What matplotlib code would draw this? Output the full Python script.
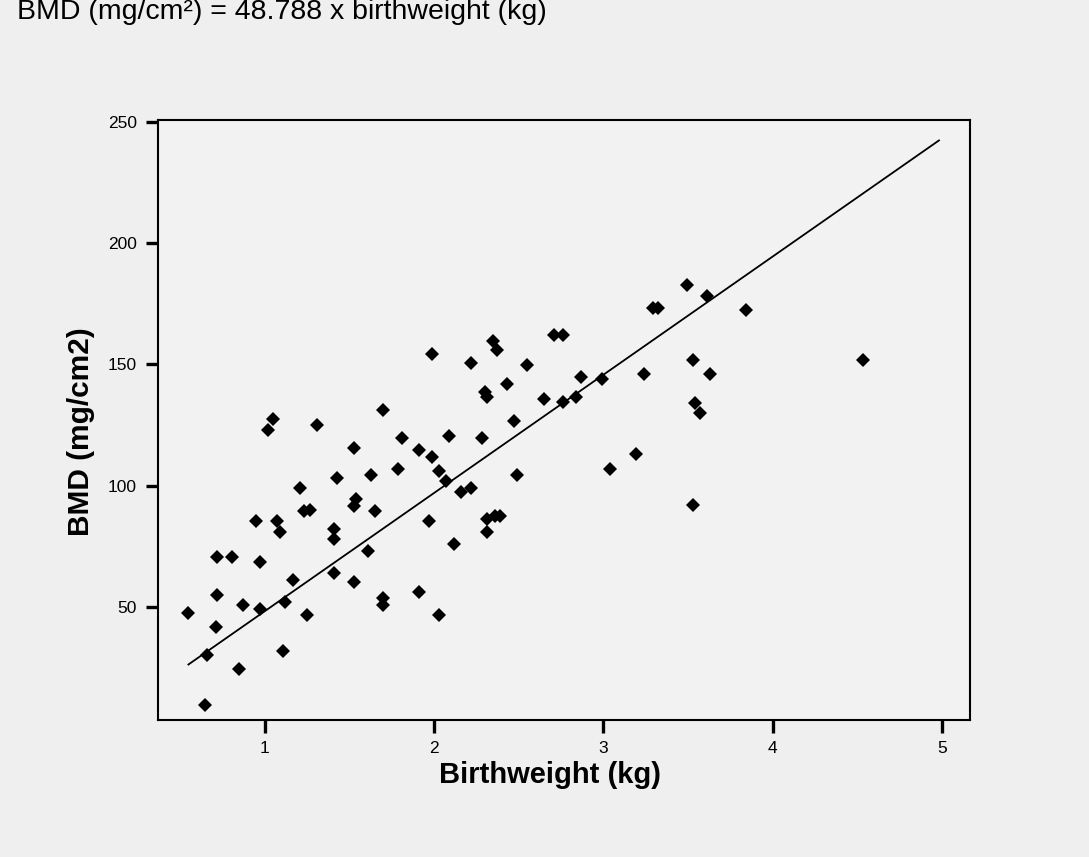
"""Birthweight vs BMD scatter with fitted regression line."""
import matplotlib
matplotlib.use("Agg")
import matplotlib.pyplot as plt

# birthweight (kg) and BMD (mg/cm2)
birthweight = [
    0.55, 0.65, 0.66, 0.71, 0.72, 0.72, 0.81, 0.85, 0.87, 0.95,
    0.97, 0.97, 1.02, 1.05, 1.07, 1.09, 1.11, 1.12, 1.17, 1.21,
    1.23, 1.27, 1.25, 1.31, 1.41, 1.41, 1.41, 1.43, 1.53, 1.54,
    1.53, 1.53, 1.61, 1.63, 1.65, 1.70, 1.70, 1.70, 1.79, 1.81,
    1.91, 1.91, 1.97, 1.985, 1.985, 2.03, 2.03, 2.07, 2.09, 2.12,
    2.16, 2.22, 2.22, 2.28, 2.30, 2.31, 2.31, 2.31, 2.35, 2.36,
    2.37, 2.39, 2.43, 2.47, 2.49, 2.55, 2.65, 2.71, 2.76, 2.76,
    2.84, 2.87, 2.99, 3.04, 3.19, 3.24, 3.29, 3.32, 3.49, 3.53,
    3.53, 3.54, 3.57, 3.61, 3.63, 3.84, 4.53,
]
bmd = [
    47.4, 9.6, 30.2, 41.5, 55.1, 70.5, 70.5, 24.3, 50.8, 85.3,
    68.7, 49.3, 123.0, 127.5, 85.3, 80.8, 31.9, 51.9, 61.1, 99.2,
    89.5, 90.0, 46.6, 125.0, 82.0, 78.2, 63.9, 103.3, 115.4, 94.4,
    91.4, 60.4, 73.2, 104.3, 89.6, 131.0, 53.6, 50.7, 106.9, 119.8,
    114.6, 56.2, 85.3, 112.0, 154.2, 106.2, 46.7, 102.1, 120.5, 75.9,
    97.4, 99.2, 150.7, 119.8, 138.5, 136.5, 86.2, 80.9, 159.8, 87.5,
    156.0, 87.3, 142.1, 126.7, 104.4, 149.8, 135.8, 162.0, 162.0, 134.3,
    136.5, 145.0, 143.9, 106.9, 113.0, 146.0, 173.2, 173.2, 182.8, 152.0,
    92.2, 134.0, 129.9, 178.4, 146.0, 172.5, 152.0,
]

# fitted line: BMD = intercept + slope * birthweight
slope = 48.788
intercept = -0.6
fit_x = [0.55, 4.98]

x_ticks = [1, 2, 3, 4, 5]
y_ticks = [50, 100, 150, 200, 250]

plt.rcParams["font.family"] = ["Liberation Sans", "DejaVu Sans"]

bg = "#efefef"
fig = plt.figure(figsize=(10.89, 8.57), dpi=100, facecolor=bg)
ax = fig.add_axes([0.145, 0.160, 0.746, 0.700], facecolor="#f2f2f2")

ax.plot(birthweight, bmd, linestyle="none", marker="D", markersize=7.5,
        color="black", markeredgewidth=0)
fit_y = [intercept + slope * x for x in fit_x]
ax.plot(fit_x, fit_y, color="black", linewidth=1.3)

ax.set_xlim(0.37, 5.165)
ax.set_ylim(3.4, 250.8)
ax.set_xticks(x_ticks)
ax.set_yticks(y_ticks)
ax.tick_params(direction="out", length=9, width=2.4, labelsize=12.5, pad=6)
for s in ax.spines.values():
    s.set_linewidth(1.5)

ax.set_xlabel("Birthweight (kg)", fontsize=21, fontweight="bold", va="center")
ax.set_ylabel("BMD (mg/cm2)", fontsize=21.5, fontweight="bold", va="center")
ax.xaxis.set_label_coords(0.483, -0.092)
ax.yaxis.set_label_coords(-0.095, 0.48)

# equation text at the top edge, as in the source image
fig.text(17 / 1089, 1 - 19 / 857, "BMD (mg/cm\u00b2) = 48.788 x birthweight (kg)",
         fontsize=20.5, va="baseline", ha="left")

fig.savefig("out.png", dpi=100, facecolor=bg)
